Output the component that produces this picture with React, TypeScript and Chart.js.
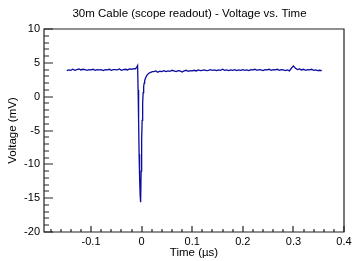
import React, { useEffect, useRef } from "react";
import { Chart, registerables } from "chart.js";

Chart.register(...registerables);

// ---- data ----
const timeUs: number[] = [
  -0.148, -0.144, -0.140, -0.136, -0.132, -0.128, -0.124, -0.120, -0.116, -0.112,
  -0.108, -0.104, -0.100, -0.096, -0.092, -0.088, -0.084, -0.080, -0.076, -0.072,
  -0.068, -0.064, -0.060, -0.056, -0.052, -0.048, -0.044, -0.040, -0.036, -0.032,
  -0.028, -0.024, -0.020, -0.016, -0.013, -0.010, -0.008, -0.007, -0.006, -0.005,
  -0.004, -0.003, -0.002, -0.001, 0.000, 0.001, 0.002, 0.003, 0.004, 0.005,
  0.006, 0.008, 0.010, 0.012, 0.015, 0.018, 0.021, 0.024, 0.028, 0.032,
  0.036, 0.040, 0.044, 0.048, 0.052, 0.056, 0.060, 0.064, 0.068, 0.072,
  0.076, 0.080, 0.084, 0.088, 0.092, 0.096, 0.100, 0.104, 0.108, 0.112,
  0.116, 0.120, 0.124, 0.128, 0.132, 0.136, 0.140, 0.144, 0.148, 0.152,
  0.156, 0.160, 0.164, 0.168, 0.172, 0.176, 0.180, 0.184, 0.188, 0.192,
  0.196, 0.200, 0.204, 0.208, 0.212, 0.216, 0.220, 0.224, 0.228, 0.232,
  0.236, 0.240, 0.244, 0.248, 0.252, 0.256, 0.260, 0.264, 0.268, 0.272,
  0.276, 0.280, 0.284, 0.288, 0.292, 0.296, 0.300, 0.304, 0.308, 0.312,
  0.316, 0.320, 0.324, 0.328, 0.332, 0.336, 0.340, 0.344, 0.348, 0.352,
  0.356,
];

const voltageMv: number[] = [
  3.85, 3.95, 3.9, 4.05, 3.9, 4.0, 4.1, 3.95, 4.05, 4.0,
  3.9, 4.0, 3.95, 4.05, 3.9, 4.0, 3.95, 4.0, 3.85, 4.0,
  3.95, 4.05, 3.9, 4.0, 4.0, 3.95, 4.1, 3.9, 4.0, 4.05,
  3.95, 4.1, 4.05, 4.15, 4.1, 4.3, 4.6, 1.0, -3.5, -8.5,
  -12.0, -14.5, -15.6, -11.0, -6.5, -3.5, -1.0, 0.6, 1.5, 2.0,
  2.4, 2.8, 3.1, 3.3, 3.5, 3.6, 3.7, 3.7, 3.8, 3.6,
  3.75, 3.7, 3.85, 3.7, 3.8, 3.75, 3.9, 3.8, 3.7, 3.85,
  3.8, 3.65, 3.8, 3.9, 3.75, 3.85, 3.8, 3.9, 3.8, 3.95,
  3.85, 3.9, 3.95, 3.85, 3.9, 4.0, 3.9, 3.95, 3.85, 3.95,
  3.9, 4.05, 3.9, 3.95, 3.85, 3.95, 3.9, 4.0, 3.85, 3.95,
  3.9, 4.0, 3.9, 3.95, 3.85, 4.0, 3.95, 4.05, 3.9, 4.0,
  3.95, 3.85, 4.0, 3.95, 4.05, 3.9, 4.0, 3.95, 4.05, 3.9,
  4.0, 3.95, 3.85, 3.95, 3.8, 4.2, 4.55, 4.2, 4.0, 4.1,
  3.95, 4.05, 3.9, 4.0, 3.95, 4.05, 3.9, 3.95, 3.85, 3.9,
  3.85,
];

const xTickValues: number[] = [-0.1, 0, 0.1, 0.2, 0.3, 0.4];
const xTickLabels: string[] = ["-0.1", "0", "0.1", "0.2", "0.3", "0.4"];
const yTickValues: number[] = [-20, -15, -10, -5, 0, 5, 10];
const yTickLabels: string[] = ["-20", "-15", "-10", "-5", "0", "5", "10"];

const X_MIN = -0.193;
const X_MAX = 0.4;
const Y_MIN = -20;
const Y_MAX = 10;

const TITLE = "30m Cable (scope readout) - Voltage vs. Time";
const X_TITLE = "Time (\u00b5s)";
const Y_TITLE = "Voltage (mV)";

const FONT = "'Liberation Sans', Arial, sans-serif";

const framePlugin = {
  id: "rootFrame",
  afterDraw(chart: any) {
    const { ctx, chartArea: a, scales } = chart;
    const xs = scales.x;
    const ys = scales.y;
    const L = Math.round(a.left);
    const R = Math.round(a.right);
    const T = Math.round(a.top);
    const B = Math.round(a.bottom);
    ctx.save();
    ctx.setLineDash([]);
    ctx.globalAlpha = 1;
    ctx.globalCompositeOperation = "source-over";
    ctx.strokeStyle = "#222";
    ctx.lineWidth = 1.2;
    ctx.lineCap = "butt";
    // frame
    ctx.beginPath();
    ctx.rect(L, T, R - L, B - T);
    ctx.stroke();
    // ticks
    ctx.beginPath();
    for (let i = -10; i <= 20; i++) {
      const v = i * 0.02;
      if (v < X_MIN - 1e-9 || v > X_MAX + 1e-9) continue;
      const px = Math.round(xs.getPixelForValue(v));
      const len = i % 5 === 0 ? 6 : 3;
      ctx.moveTo(px, B);
      ctx.lineTo(px, B - len);
    }
    for (let v = Y_MIN; v <= Y_MAX; v++) {
      const py = Math.round(ys.getPixelForValue(v));
      const len = v % 5 === 0 ? 9 : 5;
      ctx.moveTo(L, py);
      ctx.lineTo(L + len, py);
    }
    ctx.stroke();
    // main title
    ctx.fillStyle = "#000";
    ctx.font = `11.5px ${FONT}`;
    ctx.textAlign = "center";
    ctx.textBaseline = "alphabetic";
    ctx.fillText(TITLE, 189.5, 17);
    ctx.restore();
  },
};

export default function App() {
  const ref = useRef<HTMLCanvasElement | null>(null);

  useEffect(() => {
    if (!ref.current) return;
    const points = timeUs.map((t, i) => ({ x: t, y: voltageMv[i] }));
    const chart = new Chart(ref.current, {
      type: "line",
      data: {
        datasets: [
          {
            data: points,
            borderColor: "#0c0c9e",
            borderWidth: 1.3,
            pointRadius: 0,
            tension: 0,
            fill: false,
          },
        ],
      },
      options: {
        animation: false,
        responsive: false,
        maintainAspectRatio: false,
        devicePixelRatio: 1,
        layout: { padding: { top: 29, right: 8, bottom: 0, left: 0 } },
        plugins: {
          legend: { display: false },
          tooltip: { enabled: false },
          title: { display: false },
        },
        scales: {
          x: {
            type: "linear",
            min: X_MIN,
            max: X_MAX,
            grid: { display: false, drawTicks: false },
            border: { display: false },
            afterBuildTicks: (s: any) => {
              s.ticks = xTickValues.map((v) => ({ value: v }));
            },
            afterFit: (s: any) => {
              s.height = 29;
              s.paddingLeft = 0;
              s.paddingRight = 0;
            },
            ticks: {
              color: "#000",
              font: { family: FONT, size: 11 },
              padding: 3,
              maxRotation: 0,
              autoSkip: false,
              callback: (v: any) => {
                const i = xTickValues.findIndex((t) => Math.abs(t - v) < 1e-9);
                return i >= 0 ? xTickLabels[i] : "";
              },
            },
            title: {
              display: true,
              text: X_TITLE,
              color: "#000",
              font: { family: FONT, size: 11.5 },
              padding: { top: 0, bottom: 1.5 },
            },
          },
          y: {
            type: "linear",
            min: Y_MIN,
            max: Y_MAX,
            grid: { display: false, drawTicks: false },
            border: { display: false },
            afterBuildTicks: (s: any) => {
              s.ticks = yTickValues.map((v) => ({ value: v }));
            },
            afterFit: (s: any) => {
              s.width = 44;
              s.paddingTop = 0;
              s.paddingBottom = 0;
            },
            ticks: {
              color: "#000",
              font: { family: FONT, size: 11 },
              padding: 4,
              autoSkip: false,
              callback: (v: any) => {
                const i = yTickValues.findIndex((t) => Math.abs(t - v) < 1e-9);
                return i >= 0 ? yTickLabels[i] : "";
              },
            },
            title: {
              display: true,
              text: Y_TITLE,
              color: "#000",
              font: { family: FONT, size: 11.5 },
              padding: { top: 6, bottom: 0 },
            },
          },
        },
      },
      plugins: [framePlugin],
    });
    return () => chart.destroy();
  }, []);

  return (
    <div style={{ position: "fixed", left: 0, top: 0, width: 352, height: 261, background: "#fff" }}>
      <canvas ref={ref} width={352} height={261} style={{ display: "block" }} />
    </div>
  );
}
